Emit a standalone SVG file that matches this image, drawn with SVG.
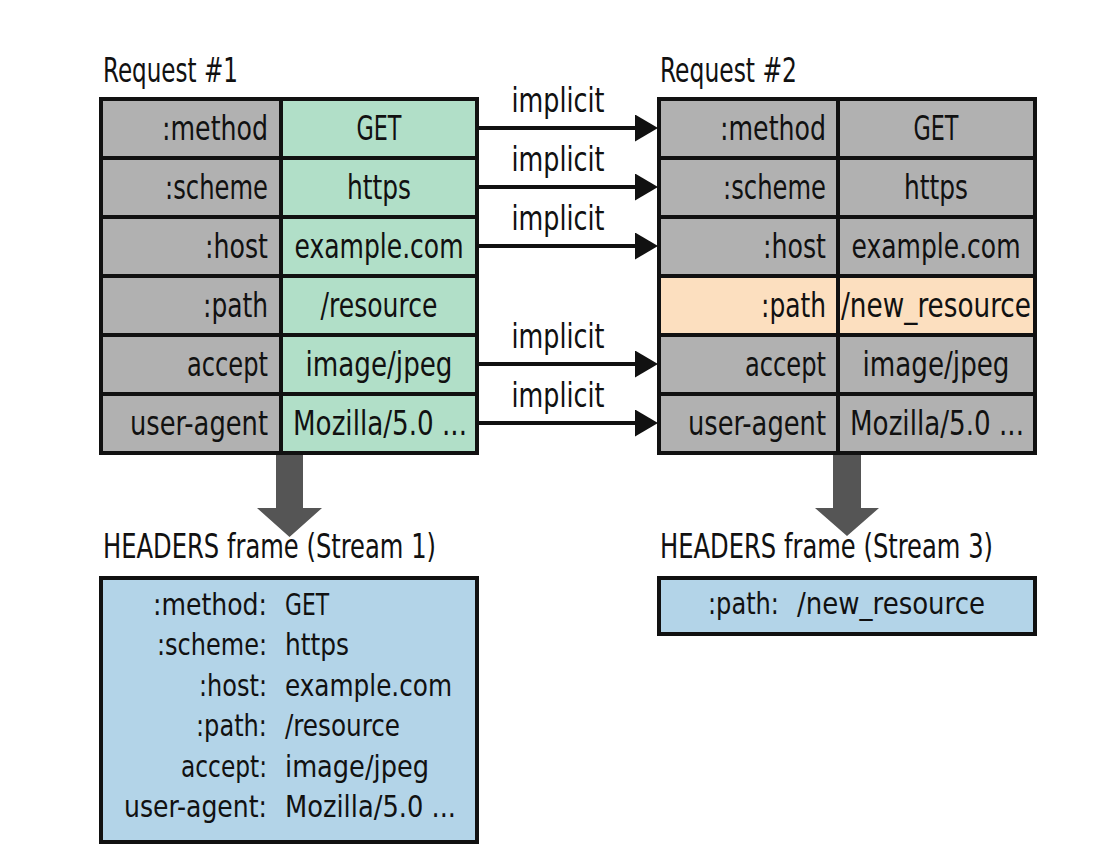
<svg xmlns="http://www.w3.org/2000/svg" width="1099" height="858" viewBox="0 0 1099 858">
  <style>
    text { font-family: "Liberation Sans Narrow", "DejaVu Sans Condensed", "Liberation Sans", sans-serif; font-size: 33px; fill: #111; }
    .title { font-size: 33px; }
    .list { font-size: 31px; }
    .cell { stroke: #111; stroke-width: 4; }
    .gray { fill: #b1b1b1; }
    .green { fill: #b1dfc8; }
    .peach { fill: #fcdfbf; }
    .blue { fill: #b3d4e8; }
    .r { text-anchor: end; }
    .c { text-anchor: middle; }
    .link { stroke: #111; stroke-width: 4; fill: none; }
    .fat { fill: #555555; }
  </style>
  <defs>
    <marker id="head" markerUnits="userSpaceOnUse" markerWidth="24" markerHeight="28" refX="5" refY="13.5" orient="auto">
      <path d="M0,0 L23,13.5 L0,27 z" fill="#111"/>
    </marker>
  </defs>

  <rect width="1099" height="858" fill="#ffffff"/>

  <!-- Request #1 table -->
  <g id="request1">
    <text class="title" x="103" y="82" textLength="135" lengthAdjust="spacingAndGlyphs">Request #1</text>
    <rect class="cell gray" x="101" y="99" width="180" height="59"/>
    <rect class="cell green" x="281" y="99" width="196" height="59"/>
    <rect class="cell gray" x="101" y="158" width="180" height="59"/>
    <rect class="cell green" x="281" y="158" width="196" height="59"/>
    <rect class="cell gray" x="101" y="217" width="180" height="59"/>
    <rect class="cell green" x="281" y="217" width="196" height="59"/>
    <rect class="cell gray" x="101" y="276" width="180" height="59"/>
    <rect class="cell green" x="281" y="276" width="196" height="59"/>
    <rect class="cell gray" x="101" y="335" width="180" height="59"/>
    <rect class="cell green" x="281" y="335" width="196" height="59"/>
    <rect class="cell gray" x="101" y="394" width="180" height="59"/>
    <rect class="cell green" x="281" y="394" width="196" height="59"/>
    <text class="r" x="268" y="140" textLength="106" lengthAdjust="spacingAndGlyphs">:method</text>
    <text class="r" x="268" y="199" textLength="103" lengthAdjust="spacingAndGlyphs">:scheme</text>
    <text class="r" x="268" y="258" textLength="63" lengthAdjust="spacingAndGlyphs">:host</text>
    <text class="r" x="268" y="317" textLength="65" lengthAdjust="spacingAndGlyphs">:path</text>
    <text class="r" x="268" y="376" textLength="81" lengthAdjust="spacingAndGlyphs">accept</text>
    <text class="r" x="268" y="435" textLength="138" lengthAdjust="spacingAndGlyphs">user-agent</text>
    <text class="c" x="379" y="140" textLength="45" lengthAdjust="spacingAndGlyphs">GET</text>
    <text class="c" x="379" y="199" textLength="64" lengthAdjust="spacingAndGlyphs">https</text>
    <text class="c" x="379" y="258" textLength="169" lengthAdjust="spacingAndGlyphs">example.com</text>
    <text class="c" x="379" y="317" textLength="117" lengthAdjust="spacingAndGlyphs">/resource</text>
    <text class="c" x="379" y="376" textLength="147" lengthAdjust="spacingAndGlyphs">image/jpeg</text>
    <text class="c" x="380" y="435" textLength="174" lengthAdjust="spacingAndGlyphs">Mozilla/5.0 ...</text>
  </g>

  <!-- Request #2 table -->
  <g id="request2">
    <text class="title" x="660" y="82" textLength="137" lengthAdjust="spacingAndGlyphs">Request #2</text>
    <rect class="cell gray" x="659" y="99" width="179" height="59"/>
    <rect class="cell gray" x="838" y="99" width="197" height="59"/>
    <rect class="cell gray" x="659" y="158" width="179" height="59"/>
    <rect class="cell gray" x="838" y="158" width="197" height="59"/>
    <rect class="cell gray" x="659" y="217" width="179" height="59"/>
    <rect class="cell gray" x="838" y="217" width="197" height="59"/>
    <rect class="cell peach" x="659" y="276" width="179" height="59"/>
    <rect class="cell peach" x="838" y="276" width="197" height="59"/>
    <rect class="cell gray" x="659" y="335" width="179" height="59"/>
    <rect class="cell gray" x="838" y="335" width="197" height="59"/>
    <rect class="cell gray" x="659" y="394" width="179" height="59"/>
    <rect class="cell gray" x="838" y="394" width="197" height="59"/>
    <text class="r" x="826" y="140" textLength="106" lengthAdjust="spacingAndGlyphs">:method</text>
    <text class="r" x="826" y="199" textLength="103" lengthAdjust="spacingAndGlyphs">:scheme</text>
    <text class="r" x="826" y="258" textLength="63" lengthAdjust="spacingAndGlyphs">:host</text>
    <text class="r" x="826" y="317" textLength="65" lengthAdjust="spacingAndGlyphs">:path</text>
    <text class="r" x="826" y="376" textLength="81" lengthAdjust="spacingAndGlyphs">accept</text>
    <text class="r" x="826" y="435" textLength="138" lengthAdjust="spacingAndGlyphs">user-agent</text>
    <text class="c" x="936" y="140" textLength="45" lengthAdjust="spacingAndGlyphs">GET</text>
    <text class="c" x="936" y="199" textLength="64" lengthAdjust="spacingAndGlyphs">https</text>
    <text class="c" x="936" y="258" textLength="169" lengthAdjust="spacingAndGlyphs">example.com</text>
    <text class="c" x="936" y="317" textLength="190" lengthAdjust="spacingAndGlyphs">/new_resource</text>
    <text class="c" x="936" y="376" textLength="147" lengthAdjust="spacingAndGlyphs">image/jpeg</text>
    <text class="c" x="937" y="435" textLength="174" lengthAdjust="spacingAndGlyphs">Mozilla/5.0 ...</text>
  </g>

  <!-- HEADERS frame, stream 1 -->
  <g id="frame1">
    <text class="title" x="103" y="558" textLength="333" lengthAdjust="spacingAndGlyphs">HEADERS frame (Stream 1)</text>
    <rect class="cell blue" x="101" y="578" width="376" height="264"/>
    <text class="list r" x="267" y="615" textLength="114" lengthAdjust="spacingAndGlyphs">:method:</text>
    <text class="list r" x="267" y="655" textLength="110" lengthAdjust="spacingAndGlyphs">:scheme:</text>
    <text class="list r" x="267" y="696" textLength="68" lengthAdjust="spacingAndGlyphs">:host:</text>
    <text class="list r" x="267" y="736" textLength="71" lengthAdjust="spacingAndGlyphs">:path:</text>
    <text class="list r" x="267" y="777" textLength="86" lengthAdjust="spacingAndGlyphs">accept:</text>
    <text class="list r" x="267" y="817" textLength="143" lengthAdjust="spacingAndGlyphs">user-agent:</text>
    <text class="list" x="285" y="615" textLength="44" lengthAdjust="spacingAndGlyphs">GET</text>
    <text class="list" x="285" y="655" textLength="64" lengthAdjust="spacingAndGlyphs">https</text>
    <text class="list" x="285" y="696" textLength="167" lengthAdjust="spacingAndGlyphs">example.com</text>
    <text class="list" x="285" y="736" textLength="115" lengthAdjust="spacingAndGlyphs">/resource</text>
    <text class="list" x="285" y="777" textLength="144" lengthAdjust="spacingAndGlyphs">image/jpeg</text>
    <text class="list" x="285" y="817" textLength="171" lengthAdjust="spacingAndGlyphs">Mozilla/5.0 ...</text>
  </g>

  <!-- HEADERS frame, stream 3 -->
  <g id="frame3">
    <text class="title" x="660" y="558" textLength="333" lengthAdjust="spacingAndGlyphs">HEADERS frame (Stream 3)</text>
    <rect class="cell blue" x="659" y="578" width="376" height="56"/>
    <text class="list r" x="779" y="614" textLength="71" lengthAdjust="spacingAndGlyphs">:path:</text>
    <text class="list" x="797" y="614" textLength="188" lengthAdjust="spacingAndGlyphs">/new_resource</text>
  </g>

  <!-- connectors -->
  <g id="connectors">
    <line class="link" x1="477" y1="128" x2="640" y2="128" marker-end="url(#head)"/>
    <line class="link" x1="477" y1="187" x2="640" y2="187" marker-end="url(#head)"/>
    <line class="link" x1="477" y1="246" x2="640" y2="246" marker-end="url(#head)"/>
    <line class="link" x1="477" y1="364" x2="640" y2="364" marker-end="url(#head)"/>
    <line class="link" x1="477" y1="423" x2="640" y2="423" marker-end="url(#head)"/>
    <text class="c" x="558" y="112" textLength="93" lengthAdjust="spacingAndGlyphs">implicit</text>
    <text class="c" x="558" y="171" textLength="93" lengthAdjust="spacingAndGlyphs">implicit</text>
    <text class="c" x="558" y="230" textLength="93" lengthAdjust="spacingAndGlyphs">implicit</text>
    <text class="c" x="558" y="348" textLength="93" lengthAdjust="spacingAndGlyphs">implicit</text>
    <text class="c" x="558" y="407" textLength="93" lengthAdjust="spacingAndGlyphs">implicit</text>
    <polygon class="fat" points="276,455 303,455 303,508 322,508 289.5,537 257,508 276,508"/>
    <polygon class="fat" points="833,455 861,455 861,508 879,508 847,536 815,508 833,508"/>
  </g>
</svg>
